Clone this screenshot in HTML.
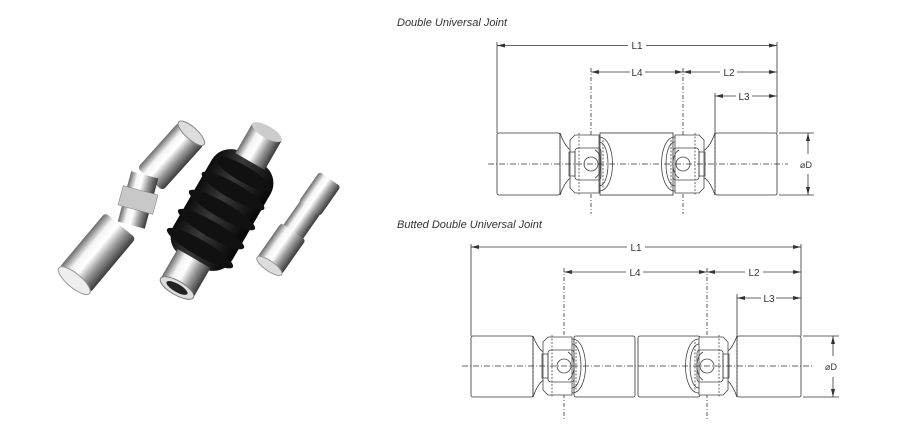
<!DOCTYPE html>
<html><head><meta charset="utf-8"><style>
body{margin:0;background:#fff;width:900px;height:427px;overflow:hidden}
svg{position:absolute;left:0;top:0}
text{font-family:"Liberation Sans",sans-serif;fill:#333}
</style></head><body>
<svg width="900" height="427" viewBox="0 0 900 427">
<defs>
<linearGradient id="chr" x1="0" y1="0" x2="0" y2="1">
<stop offset="0" stop-color="#6a6a6a"/><stop offset="0.25" stop-color="#f4f4f4"/><stop offset="0.45" stop-color="#ffffff"/><stop offset="0.7" stop-color="#9a9a9a"/><stop offset="1" stop-color="#3a3a3a"/>
</linearGradient>
<linearGradient id="blk" x1="0" y1="0" x2="0" y2="1">
<stop offset="0" stop-color="#0a0a0a"/><stop offset="0.4" stop-color="#3a3a3a"/><stop offset="1" stop-color="#050505"/>
</linearGradient>
<marker id="ar" markerWidth="8" markerHeight="6" refX="8" refY="3" orient="auto-start-reverse" markerUnits="userSpaceOnUse"><path d="M0,1 L8,3 L0,5 z" fill="#333"/></marker>
<g id="jt" fill="none" stroke="#444" stroke-width="0.8">
<path d="M-16,-29 L8,-29 L8,29 L-16,29 L-21,24 L-21,-24 Z" fill="#fff"/>
<path d="M8,-27 C26,-27 26,27 8,27"/>
<path d="M8,-22 C20,-22 20,22 8,22"/>
<rect x="-22" y="-12" width="6" height="24"/>
<rect x="-16" y="-16" width="26" height="32" rx="3"/>
<path d="M4,-14 C12,-10 12,10 4,14"/>
<circle r="7"/>
<line x1="-12" y1="-31" x2="-12" y2="31" stroke-dasharray="2,1.5"/>
<line x1="12" y1="-24" x2="12" y2="24" stroke-dasharray="2,1.5"/>
</g>
</defs>

<!-- photo -->
<g>
<g transform="translate(170,157) rotate(-48)"><rect x="-30" y="-17" width="62" height="34" rx="4" fill="url(#chr)"/><ellipse cx="32" cy="0" rx="6" ry="17" fill="#ddd" stroke="#888"/></g>
<g transform="translate(138,200) rotate(-75)"><rect x="-26" y="-14" width="52" height="28" fill="url(#chr)"/><rect x="-10" y="-18" width="20" height="36" fill="#c8c8c8" stroke="#777" stroke-width="0.5"/></g>
<g transform="translate(100,250) rotate(-50)"><rect x="-40" y="-20" width="72" height="40" rx="4" fill="url(#chr)"/><ellipse cx="-40" cy="0" rx="7" ry="20" fill="#eee" stroke="#999"/></g>
<g transform="translate(222,210) rotate(-60)">
<rect x="-60" y="-34" width="120" height="68" rx="22" fill="url(#blk)"/>
<g fill="#111"><ellipse cx="-44" cy="0" rx="8" ry="38"/><ellipse cx="-22" cy="0" rx="8" ry="38"/><ellipse cx="0" cy="0" rx="8" ry="38"/><ellipse cx="22" cy="0" rx="8" ry="36"/><ellipse cx="42" cy="0" rx="8" ry="32"/></g>
<rect x="56" y="-17" width="34" height="34" fill="url(#chr)"/><ellipse cx="90" cy="0" rx="6" ry="17" fill="#ccc"/>
<rect x="-90" y="-19" width="34" height="38" fill="url(#chr)"/><ellipse cx="-90" cy="0" rx="7" ry="19" fill="#ddd" stroke="#777"/><ellipse cx="-90" cy="0" rx="4" ry="12" fill="#222"/>
</g>
<g transform="translate(298,225) rotate(-55)">
<rect x="-10" y="-12" width="34" height="24" fill="url(#chr)"/>
<rect x="20" y="-13" width="36" height="26" rx="3" fill="url(#chr)"/>
<rect x="-50" y="-15" width="42" height="30" rx="3" fill="url(#chr)"/><ellipse cx="-50" cy="0" rx="5" ry="15" fill="#ddd" stroke="#999"/>
</g>
</g>

<text x="397" y="26" font-size="11" font-style="italic">Double Universal Joint</text>
<text x="397" y="228" font-size="11" font-style="italic">Butted Double Universal Joint</text>

<!-- TOP DIAGRAM -->
<g stroke="#333" stroke-width="0.8" fill="none">
<line x1="497" y1="42" x2="497" y2="133"/><line x1="777" y1="42" x2="777" y2="133"/>
<line x1="591" y1="68" x2="591" y2="214" stroke-dasharray="4,2,1,2"/>
<line x1="683" y1="68" x2="683" y2="214" stroke-dasharray="4,2,1,2"/>
<line x1="715" y1="93" x2="715" y2="133"/>
<line x1="497" y1="45.5" x2="628" y2="45.5" marker-start="url(#ar)"/><line x1="646" y1="45.5" x2="777" y2="45.5" marker-end="url(#ar)"/>
<line x1="591" y1="72" x2="630" y2="72" marker-start="url(#ar)"/><line x1="645" y1="72" x2="683" y2="72" marker-end="url(#ar)"/>
<line x1="683" y1="72" x2="720" y2="72" marker-start="url(#ar)"/><line x1="737" y1="72" x2="777" y2="72" marker-end="url(#ar)"/>
<line x1="715" y1="96" x2="736" y2="96" marker-start="url(#ar)"/><line x1="752" y1="96" x2="777" y2="96" marker-end="url(#ar)"/>
<line x1="779" y1="133" x2="814" y2="133"/><line x1="779" y1="195" x2="814" y2="195"/>
<line x1="808" y1="133" x2="808" y2="154" marker-start="url(#ar)"/><line x1="808" y1="174" x2="808" y2="195" marker-end="url(#ar)"/>
<path d="M560,133 C566,150 572,152 578,152 M578,176 C572,176 566,178 560,195"/>
<rect x="497" y="133" width="63" height="62" rx="2" fill="#fff"/>
<line x1="560" y1="133" x2="560" y2="195" stroke-dasharray="2,1.5"/>
<rect x="600" y="133" width="73" height="62" fill="#fff"/>
<rect x="715" y="133" width="62" height="62" rx="2" fill="#fff"/>
<path d="M715,133 C709,150 703,152 697,152 M697,176 C703,176 709,178 715,195"/>
<line x1="715" y1="133" x2="715" y2="195" stroke-dasharray="2,1.5"/>
</g>
<use href="#jt" x="591" y="164"/>
<use href="#jt" transform="translate(683,164) scale(-1,1)"/>
<line x1="488" y1="164" x2="788" y2="164" stroke="#333" stroke-width="0.8" stroke-dasharray="6,2,1,2"/>
<g font-size="10" text-anchor="middle">
<text x="637" y="49">L1</text><text x="637" y="76">L4</text><text x="729" y="76">L2</text><text x="744" y="100">L3</text>
<text x="806" y="168" font-size="9">⌀D</text>
</g>

<!-- BOTTOM DIAGRAM -->
<g stroke="#333" stroke-width="0.8" fill="none">
<line x1="471" y1="244" x2="471" y2="336"/><line x1="801" y1="244" x2="801" y2="336"/>
<line x1="564" y1="268" x2="564" y2="420" stroke-dasharray="4,2,1,2"/>
<line x1="707" y1="268" x2="707" y2="420" stroke-dasharray="4,2,1,2"/>
<line x1="737" y1="294" x2="737" y2="336"/>
<line x1="471" y1="247" x2="627" y2="247" marker-start="url(#ar)"/><line x1="645" y1="247" x2="801" y2="247" marker-end="url(#ar)"/>
<line x1="564" y1="272" x2="626" y2="272" marker-start="url(#ar)"/><line x1="643" y1="272" x2="707" y2="272" marker-end="url(#ar)"/>
<line x1="707" y1="272" x2="745" y2="272" marker-start="url(#ar)"/><line x1="763" y1="272" x2="801" y2="272" marker-end="url(#ar)"/>
<line x1="737" y1="298" x2="761" y2="298" marker-start="url(#ar)"/><line x1="776" y1="298" x2="801" y2="298" marker-end="url(#ar)"/>
<line x1="803" y1="336" x2="839" y2="336"/><line x1="803" y1="397" x2="839" y2="397"/>
<line x1="833" y1="336" x2="833" y2="356" marker-start="url(#ar)"/><line x1="833" y1="377" x2="833" y2="397" marker-end="url(#ar)"/>
<path d="M533,336 C539,352 545,354 551,354 M551,378 C545,378 539,380 533,397"/>
<rect x="471" y="336" width="62" height="61" rx="2" fill="#fff"/>
<line x1="533" y1="336" x2="533" y2="397" stroke-dasharray="2,1.5"/>
<rect x="574" y="336" width="61" height="61" rx="2" fill="#fff"/>
<rect x="638" y="336" width="62" height="61" rx="2" fill="#fff"/>
<rect x="737" y="336" width="64" height="61" rx="2" fill="#fff"/>
<path d="M737,336 C731,352 725,354 719,354 M719,378 C725,378 731,380 737,397"/>
<line x1="737" y1="336" x2="737" y2="397" stroke-dasharray="2,1.5"/>
</g>
<use href="#jt" x="564" y="366"/>
<use href="#jt" transform="translate(707,366) scale(-1,1)"/>
<line x1="462" y1="366" x2="812" y2="366" stroke="#333" stroke-width="0.8" stroke-dasharray="6,2,1,2"/>
<g font-size="10" text-anchor="middle">
<text x="636" y="251">L1</text><text x="635" y="276">L4</text><text x="754" y="276">L2</text><text x="769" y="302">L3</text>
<text x="831" y="370" font-size="9">⌀D</text>
</g>
</svg>
</body></html>
